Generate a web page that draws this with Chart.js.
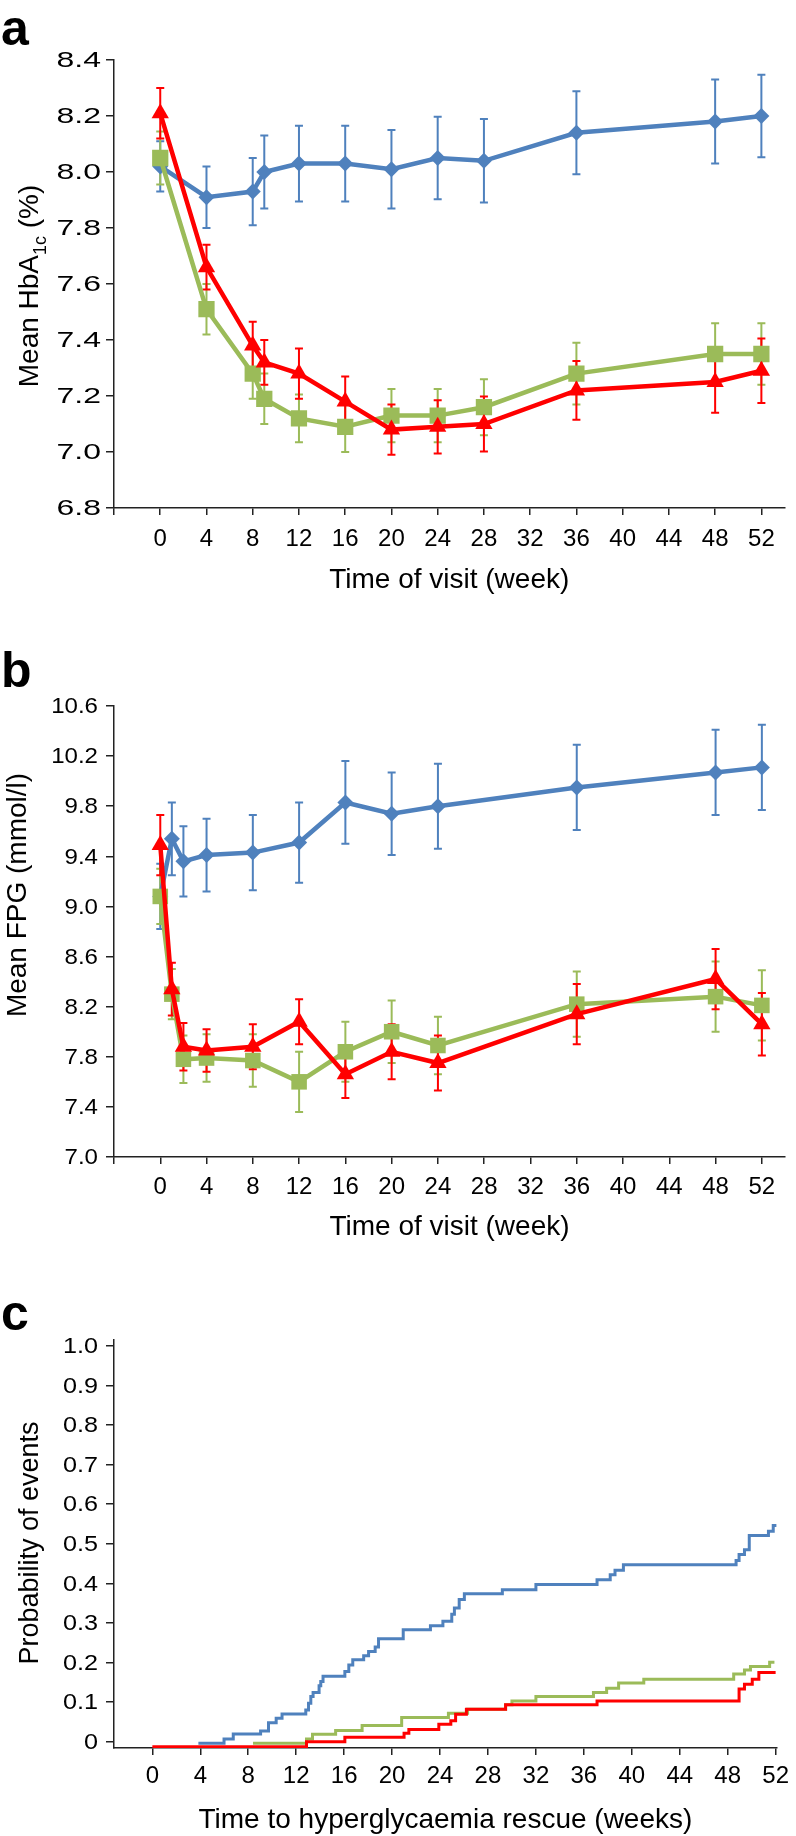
<!DOCTYPE html>
<html>
<head>
<meta charset="utf-8">
<script src="https://cdn.jsdelivr.net/npm/chart.js@4.4.1/dist/chart.umd.min.js"></script>
<style>
  html, body { margin: 0; padding: 0; background: #fff; }
  body { width: 796px; height: 1836px; position: relative; overflow: hidden; font-family: 'Liberation Sans', Arial, sans-serif; }
  .panel { position: absolute; left: 0; width: 796px; }
  .tag { position: absolute; left: 1px; font-weight: bold; font-size: 50px; line-height: 50px; color: #000; }
</style>
</head>
<body>
<div class="tag" style="top:3px">a</div>
<div class="tag" style="top:645px">b</div>
<div class="tag" style="top:1288px">c</div>
<div class="panel" style="top:0;height:620px"><canvas id="chartA"></canvas></div>
<div class="panel" style="top:620px;height:640px"><canvas id="chartB"></canvas></div>
<div class="panel" style="top:1260px;height:576px"><canvas id="chartC"></canvas></div>
<script>
// ---- data ----
const visitTicks = [-4, 0, 4, 8, 12, 16, 20, 24, 28, 32, 36, 40, 44, 48, 52];
const rescueTicks = [0, 4, 8, 12, 16, 20, 24, 28, 32, 36, 40, 44, 48, 52];
const hbaTicks = [6.8, 7.0, 7.2, 7.4, 7.6, 7.8, 8.0, 8.2, 8.4];
const fpgTicks = [7.0, 7.4, 7.8, 8.2, 8.6, 9.0, 9.4, 9.8, 10.2, 10.6];
const probTicks = [0, 0.1, 0.2, 0.3, 0.4, 0.5, 0.6, 0.7, 0.8, 0.9, 1.0];

// panel a: mean HbA1c (%)
const hbaWeeks = [0, 4, 8, 9, 12, 16, 20, 24, 28, 36, 48, 52];
const hbaBlue = [8.02, 7.91, 7.93, 8.00, 8.03, 8.03, 8.01, 8.05, 8.04, 8.14, 8.18, 8.20];
const hbaBlueErr = [0.09, 0.11, 0.12, 0.13, 0.135, 0.135, 0.14, 0.147, 0.149, 0.148, 0.15, 0.147];
const hbaGreen = [8.05, 7.51, 7.28, 7.19, 7.12, 7.09, 7.13, 7.13, 7.16, 7.28, 7.35, 7.35];
const hbaGreenErr = [0.095, 0.09, 0.09, 0.09, 0.085, 0.09, 0.095, 0.095, 0.10, 0.11, 0.11, 0.11];
const hbaRed = [8.21, 7.66, 7.38, 7.32, 7.28, 7.18, 7.08, 7.09, 7.10, 7.22, 7.25, 7.29];
const hbaRedErr = [0.09, 0.08, 0.085, 0.08, 0.09, 0.09, 0.09, 0.095, 0.098, 0.105, 0.11, 0.115];

// panel b: mean FPG (mmol/l)
const fpgWeeks = [0, 1, 2, 4, 8, 12, 16, 20, 24, 36, 48, 52];
const fpgBlue = [9.08, 9.54, 9.36, 9.41, 9.43, 9.51, 9.83, 9.74, 9.80, 9.95, 10.07, 10.11];
const fpgBlueErr = [0.26, 0.29, 0.28, 0.29, 0.30, 0.32, 0.33, 0.33, 0.34, 0.34, 0.34, 0.34];
const fpgGreen = [9.08, 8.30, 7.78, 7.79, 7.77, 7.60, 7.84, 8.00, 7.89, 8.22, 8.28, 8.21];
const fpgGreenErr = [0.22, 0.20, 0.19, 0.19, 0.21, 0.24, 0.24, 0.25, 0.23, 0.26, 0.28, 0.28];
const fpgRed = [9.49, 8.34, 7.88, 7.85, 7.88, 8.08, 7.66, 7.84, 7.75, 8.14, 8.42, 8.06];
const fpgRedErr = [0.24, 0.21, 0.19, 0.17, 0.18, 0.18, 0.19, 0.22, 0.22, 0.24, 0.24, 0.25];

// panel c: probability of hyperglycaemia rescue (step curves)
const rescueBlueWeeks = [3.84, 5.98, 6.75, 9.03, 9.69, 10.33, 10.82, 12.8, 13.03, 13.22, 13.41, 13.91, 14.05, 14.24,
  16.06, 16.39, 16.72, 17.63, 18.04, 18.59, 18.87, 20.93, 23.2, 24.24, 24.98, 25.2, 25.6, 26.03,
  29.2, 32.0, 37.1, 38.2, 38.6, 39.3, 48.7, 48.95, 49.4, 49.8, 51.4, 51.8, 52.07];
const rescueBlue = [-0.004, 0.007, 0.0195, 0.027, 0.048, 0.059, 0.070, 0.080, 0.097, 0.114, 0.124, 0.141, 0.152, 0.165,
  0.177, 0.194, 0.207, 0.217, 0.228, 0.239, 0.260, 0.283, 0.293, 0.304, 0.322, 0.338, 0.359, 0.374,
  0.384, 0.397, 0.409, 0.422, 0.433, 0.447, 0.458, 0.473, 0.485, 0.521, 0.532, 0.546, 0.546];
const rescueGreenWeeks = [8.4, 12.86, 13.36, 15.29, 17.5, 20.8, 24.7, 26.3, 29.47, 30.0, 32.0, 36.8, 37.9, 38.9, 41.0,
  48.5, 49.4, 49.9, 51.5, 51.9];
const rescueGreen = [-0.004, 0.007, 0.019, 0.028, 0.041, 0.061, 0.072, 0.082, 0.093, 0.103, 0.114, 0.124, 0.135, 0.148, 0.158,
  0.171, 0.181, 0.190, 0.201, 0.201];
const rescueRedWeeks = [0, 12.86, 16.06, 21.0, 21.4, 23.9, 24.9, 25.3, 26.2, 29.47, 37.1, 48.95, 49.4, 50.05, 50.6, 52.0];
const rescueRed = [-0.013, 0.0, 0.011, 0.021, 0.031, 0.044, 0.053, 0.069, 0.082, 0.093, 0.103, 0.133, 0.145, 0.158, 0.175, 0.175];

const BLUE = '#4f81bd', GREEN = '#9bbb59', RED = '#ff0000';
const FONT = "'Liberation Sans', Arial, sans-serif";
const AXIS = '#222';

Chart.defaults.font.family = FONT;
Chart.defaults.color = '#000';

function pts(xs, ys) {
  return xs.map((x, i) => ({ x: x, y: ys[i] }));
}

// vertical error bars, drawn through the y scale
const errorBars = {
  id: 'errorBars',
  beforeDatasetsDraw(chart) {
    const ctx = chart.ctx;
    const yScale = chart.scales.y;
    for (let i = chart.data.datasets.length - 1; i >= 0; i--) {
      const ds = chart.data.datasets[i];
      if (!ds.errors) continue;
      const meta = chart.getDatasetMeta(i);
      ctx.save();
      ctx.strokeStyle = ds.borderColor;
      ctx.lineWidth = 2;
      meta.data.forEach((pt, j) => {
        const v = ds.data[j].y, e = ds.errors[j];
        const top = yScale.getPixelForValue(v + e);
        const bot = yScale.getPixelForValue(v - e);
        ctx.beginPath();
        ctx.moveTo(pt.x, top); ctx.lineTo(pt.x, bot);
        ctx.moveTo(pt.x - 4, top); ctx.lineTo(pt.x + 4, top);
        ctx.moveTo(pt.x - 4, bot); ctx.lineTo(pt.x + 4, bot);
        ctx.stroke();
      });
      ctx.restore();
    }
  }
};

// y tick labels, a bit stretched sideways like the source figure
const yLabels = {
  id: 'yLabels',
  afterDraw(chart, args, opts) {
    const ctx = chart.ctx, s = chart.scales.y;
    ctx.save();
    ctx.font = opts.size + 'px ' + FONT;
    ctx.fillStyle = '#000';
    ctx.textAlign = 'right';
    ctx.textBaseline = 'middle';
    s.ticks.forEach(t => {
      ctx.save();
      ctx.translate(opts.right, s.getPixelForValue(t.value));
      ctx.scale(opts.stretch, 1);
      ctx.fillText(opts.fmt(t.value), 0, 1);
      ctx.restore();
    });
    ctx.restore();
  }
};

// rotated y title with optional subscript pieces
const yTitle = {
  id: 'yTitle',
  afterDraw(chart, args, opts) {
    const ctx = chart.ctx;
    ctx.save();
    ctx.translate(opts.x, opts.y);
    ctx.rotate(-Math.PI / 2);
    ctx.fillStyle = '#000';
    ctx.textBaseline = 'alphabetic';
    let total = 0;
    const parts = opts.parts.map(p => {
      const size = p.sub ? opts.size * 0.64 : opts.size;
      ctx.font = size + 'px ' + FONT;
      const w = ctx.measureText(p.text).width;
      total += w;
      return { text: p.text, sub: p.sub, size: size, w: w };
    });
    let cx = -total / 2;
    parts.forEach(p => {
      ctx.font = p.size + 'px ' + FONT;
      ctx.fillText(p.text, cx, p.sub ? opts.size * 0.29 : 0);
      cx += p.w;
    });
    ctx.restore();
  }
};

function xAxis(opt) {
  return {
    type: 'linear',
    min: opt.min, max: opt.max,
    afterBuildTicks: s => { s.ticks = opt.ticks.map(v => ({ value: v })); },
    afterFit: s => { s.height = opt.height; },
    ticks: {
      callback: v => (v < 0 ? '' : String(v)),
      font: { size: 24 }, color: '#000', padding: opt.pad, maxRotation: 0, autoSkip: false
    },
    grid: { drawOnChartArea: false, drawTicks: true, tickLength: 7, color: AXIS, lineWidth: 1.5 },
    border: { color: AXIS, width: 1.5 },
    title: {
      display: true, text: opt.title, color: '#000',
      font: { size: 28, lineHeight: 1 }, padding: { top: 0, bottom: opt.titlePad }
    }
  };
}

function yAxis(opt) {
  return {
    type: 'linear',
    min: opt.min, max: opt.max,
    afterBuildTicks: s => { s.ticks = opt.ticks.map(v => ({ value: v })); },
    afterFit: s => { s.width = 114; },
    ticks: { display: false },
    grid: { drawOnChartArea: false, drawTicks: true, tickLength: 8, color: AXIS, lineWidth: 1.5 },
    border: { color: AXIS, width: 1.5 }
  };
}

function markerSet(label, xs, ys, errs, color, style, radius) {
  return {
    label: label,
    data: pts(xs, ys),
    errors: errs,
    borderColor: color,
    backgroundColor: color,
    borderWidth: 4.5,
    pointStyle: style,
    pointRadius: radius,
    pointBorderWidth: 0,
    pointBackgroundColor: color,
    tension: 0
  };
}

function stepSet(label, xs, ys, color) {
  return {
    label: label,
    data: pts(xs, ys),
    borderColor: color,
    borderWidth: 3,
    pointRadius: 0,
    stepped: true,
    fill: false
  };
}

const common = {
  responsive: true,
  maintainAspectRatio: false,
  animation: false,
  events: []
};

const fmt1 = v => v.toFixed(1);

// panel a
new Chart(document.getElementById('chartA'), {
  type: 'line',
  data: {
    datasets: [
      markerSet('Red', hbaWeeks, hbaRed, hbaRedErr, RED, 'triangle', 10),
      markerSet('Green', hbaWeeks, hbaGreen, hbaGreenErr, GREEN, 'rect', 11.5),
      markerSet('Blue', hbaWeeks, hbaBlue, hbaBlueErr, BLUE, 'rectRot', 8)
    ]
  },
  options: Object.assign({}, common, {
    layout: { padding: { top: 60, right: 6, left: 0, bottom: 0 } },
    scales: {
      x: xAxis({ min: -4, max: 54, ticks: visitTicks, height: 112, pad: 10, title: 'Time of visit (week)', titlePad: 26 }),
      y: yAxis({ min: 6.8, max: 8.4, ticks: hbaTicks })
    },
    plugins: {
      legend: { display: false },
      tooltip: { enabled: false },
      yLabels: { size: 22.5, stretch: 1.42, right: 101, fmt: fmt1 },
      yTitle: { x: 38, y: 286, size: 28, parts: [{ text: 'Mean HbA' }, { text: '1c', sub: true }, { text: ' (%)' }] }
    }
  }),
  plugins: [errorBars, yLabels, yTitle]
});

// panel b
new Chart(document.getElementById('chartB'), {
  type: 'line',
  data: {
    datasets: [
      markerSet('Red', fpgWeeks, fpgRed, fpgRedErr, RED, 'triangle', 10),
      markerSet('Green', fpgWeeks, fpgGreen, fpgGreenErr, GREEN, 'rect', 11),
      markerSet('Blue', fpgWeeks, fpgBlue, fpgBlueErr, BLUE, 'rectRot', 8)
    ]
  },
  options: Object.assign({}, common, {
    layout: { padding: { top: 86, right: 6, left: 0, bottom: 0 } },
    scales: {
      x: xAxis({ min: -4, max: 54, ticks: visitTicks, height: 103, pad: 9, title: 'Time of visit (week)', titlePad: 19 }),
      y: yAxis({ min: 7.0, max: 10.6, ticks: fpgTicks })
    },
    plugins: {
      legend: { display: false },
      tooltip: { enabled: false },
      yLabels: { size: 22.5, stretch: 1.07, right: 98, fmt: fmt1 },
      yTitle: { x: 26, y: 275, size: 28, parts: [{ text: 'Mean FPG (mmol/l)' }] }
    }
  }),
  plugins: [errorBars, yLabels, yTitle]
});

// panel c
new Chart(document.getElementById('chartC'), {
  type: 'line',
  data: {
    datasets: [
      stepSet('Red', rescueRedWeeks, rescueRed, RED),
      stepSet('Green', rescueGreenWeeks, rescueGreen, GREEN),
      stepSet('Blue', rescueBlueWeeks, rescueBlue, BLUE)
    ]
  },
  options: Object.assign({}, common, {
    layout: { padding: { top: 80, right: 11, left: 0, bottom: 0 } },
    scales: {
      x: xAxis({ min: -3.2, max: 52.1, ticks: rescueTicks, height: 88, pad: 7, title: 'Time to hyperglycaemia rescue (weeks)', titlePad: 2 }),
      y: yAxis({ min: -0.016, max: 1.015, ticks: probTicks })
    },
    plugins: {
      legend: { display: false },
      tooltip: { enabled: false },
      yLabels: { size: 22.5, stretch: 1.12, right: 98, fmt: v => (v === 0 ? '0' : v.toFixed(1)) },
      yTitle: { x: 38, y: 283, size: 27, parts: [{ text: 'Probability of events' }] }
    }
  }),
  plugins: [yLabels, yTitle]
});
</script>
</body>
</html>
